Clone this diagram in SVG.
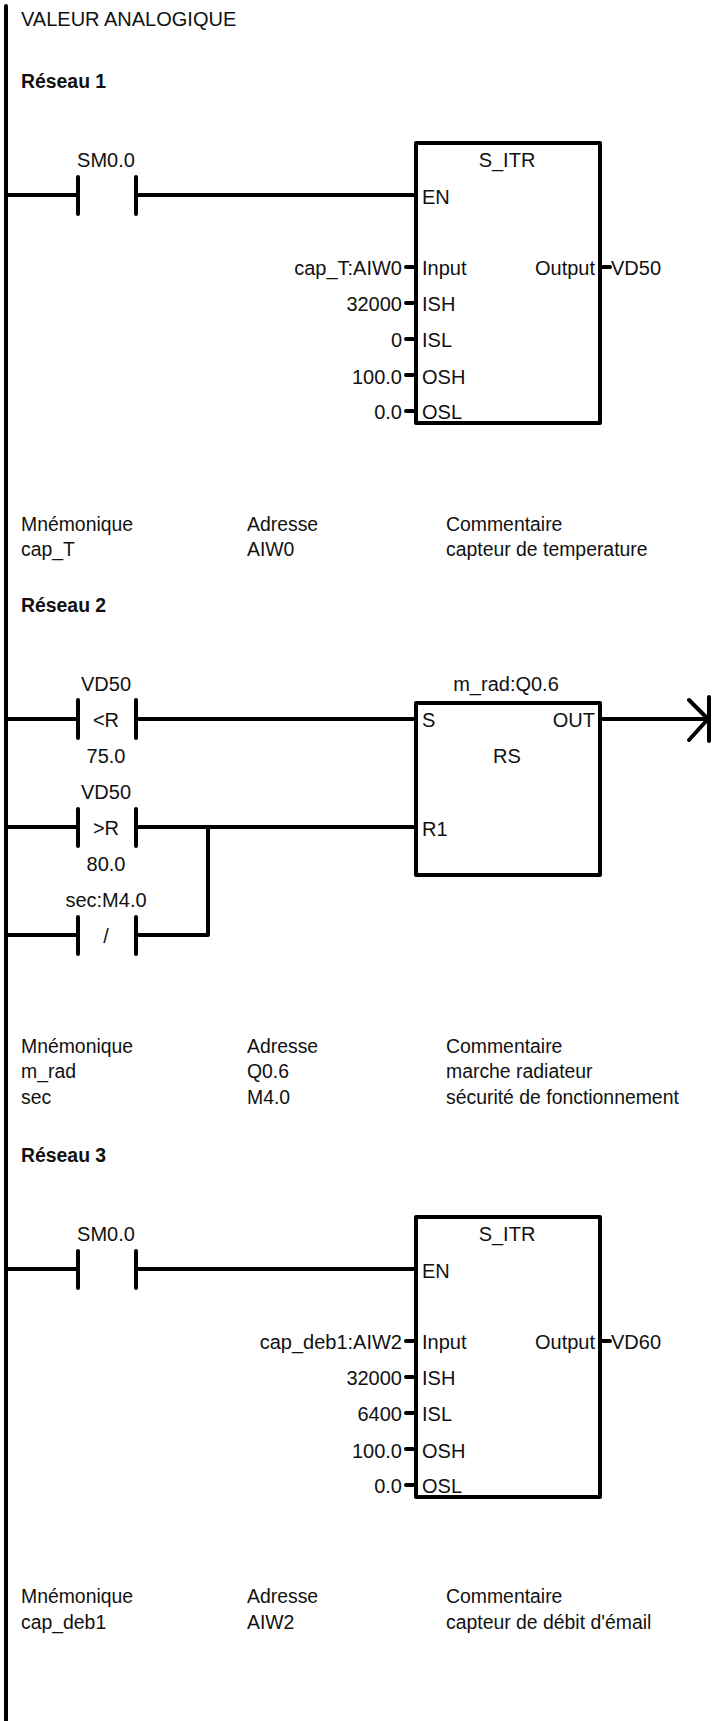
<svg xmlns="http://www.w3.org/2000/svg" width="712" height="1721" viewBox="0 0 712 1721">
<style>
text{font-family:"Liberation Sans",Arial,sans-serif;font-size:20px;fill:#111}
.b{font-weight:bold;font-size:19.4px}
.m{text-anchor:middle}
.e{text-anchor:end}
.t text{font-size:19.4px}
.l{fill:none;stroke:#000;stroke-width:4;stroke-linecap:round;stroke-linejoin:round}
.box{fill:none;stroke:#000;stroke-width:4;stroke-linejoin:round}
</style>
<rect width="712" height="1721" fill="#fff"/>
<g id="connectors">
<path class="l" d="M6 6V1721"/>
<path class="l" d="M6 195H78M136 195H416"/>
<path class="l" d="M406 267H415M406 303H415M406 339H415M406 375H415M406 411H415M600 267H610"/>
<path class="l" d="M6 719H78M136 719H416M600 719H708"/>
<path class="l" d="M6 827H78M136 827H416M6 935H78M136 935H208V827"/>
<path class="l" d="M6 1269H78M136 1269H416"/>
<path class="l" d="M406 1341H415M406 1377H415M406 1413H415M406 1449H415M406 1485H415M600 1341H610"/>
</g>
<g id="title"><text x="21" y="26">VALEUR ANALOGIQUE</text></g>
<g id="net1">
<text class="b" x="21" y="88">Réseau 1</text>
<g id="c1"><path class="l" d="M78 177V214M136 177V214"/><text class="m" x="106" y="167">SM0.0</text></g>
<g id="b1"><rect class="box" x="416" y="143" width="184" height="280"/>
<text class="m" x="507" y="167">S_ITR</text><text x="422" y="204">EN</text><text x="422" y="275">Input</text><text x="422" y="311">ISH</text><text x="422" y="347">ISL</text><text x="422" y="384">OSH</text><text x="422" y="419">OSL</text><text class="e" x="595" y="275">Output</text><text x="611" y="275">VD50</text>
<text class="e" x="402" y="275">cap_T:AIW0</text><text class="e" x="402" y="311">32000</text><text class="e" x="402" y="347">0</text><text class="e" x="402" y="384">100.0</text><text class="e" x="402" y="419">0.0</text></g>
<g id="t1" class="t"><text x="21" y="531">Mnémonique</text><text x="247" y="531">Adresse</text><text x="446" y="531">Commentaire</text><text x="21" y="556">cap_T</text><text x="247" y="556">AIW0</text><text x="446" y="556">capteur de temperature</text></g>
</g>
<g id="net2">
<text class="b" x="21" y="612">Réseau 2</text>
<g id="c2"><path class="l" d="M78 700V738M136 700V738"/><text class="m" x="106" y="691">VD50</text><text class="m" x="106" y="727">&lt;R</text><text class="m" x="106" y="763">75.0</text></g>
<g id="c3"><path class="l" d="M78 809V846M136 809V846"/><text class="m" x="106" y="799">VD50</text><text class="m" x="106" y="835">&gt;R</text><text class="m" x="106" y="871">80.0</text></g>
<g id="c4"><path class="l" d="M78 917V954M136 917V954"/><text class="m" x="106" y="907">sec:M4.0</text><text class="m" x="106" y="943">/</text></g>
<g id="b2"><rect class="box" x="416" y="703" width="184" height="172"/>
<text class="m" x="506" y="691">m_rad:Q0.6</text><text x="422" y="727">S</text><text class="e" x="595" y="727">OUT</text><text class="m" x="507" y="763">RS</text><text x="422" y="836">R1</text></g>
<g id="coil"><path class="l" d="M689 700L708 719L689 740M709 697V741"/></g>
<g id="t2" class="t"><text x="21" y="1053">Mnémonique</text><text x="247" y="1053">Adresse</text><text x="446" y="1053">Commentaire</text><text x="21" y="1078">m_rad</text><text x="247" y="1078">Q0.6</text><text x="446" y="1078">marche radiateur</text><text x="21" y="1104">sec</text><text x="247" y="1104">M4.0</text><text x="446" y="1104">sécurité de fonctionnement</text></g>
</g>
<g id="net3">
<text class="b" x="21" y="1162">Réseau 3</text>
<g id="c5"><path class="l" d="M78 1251V1288M136 1251V1288"/><text class="m" x="106" y="1241">SM0.0</text></g>
<g id="b3"><rect class="box" x="416" y="1217" width="184" height="280"/>
<text class="m" x="507" y="1241">S_ITR</text><text x="422" y="1278">EN</text><text x="422" y="1349">Input</text><text x="422" y="1385">ISH</text><text x="422" y="1421">ISL</text><text x="422" y="1458">OSH</text><text x="422" y="1493">OSL</text><text class="e" x="595" y="1349">Output</text><text x="611" y="1349">VD60</text>
<text class="e" x="402" y="1349">cap_deb1:AIW2</text><text class="e" x="402" y="1385">32000</text><text class="e" x="402" y="1421">6400</text><text class="e" x="402" y="1458">100.0</text><text class="e" x="402" y="1493">0.0</text></g>
<g id="t3" class="t"><text x="21" y="1603">Mnémonique</text><text x="247" y="1603">Adresse</text><text x="446" y="1603">Commentaire</text><text x="21" y="1629">cap_deb1</text><text x="247" y="1629">AIW2</text><text x="446" y="1629">capteur de débit d'émail</text></g>
</g>
</svg>
